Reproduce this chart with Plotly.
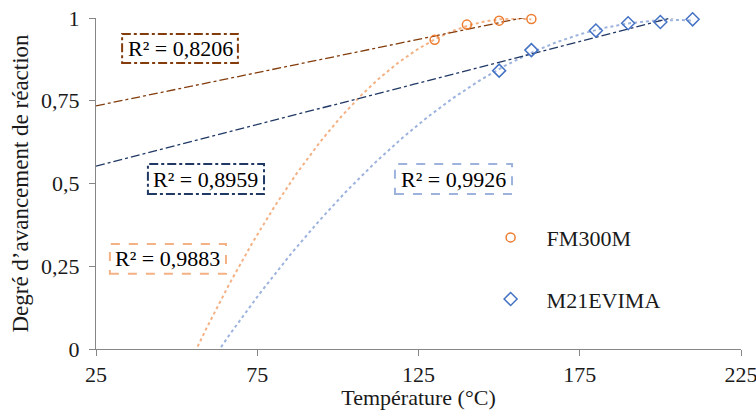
import numpy as np
import plotly.graph_objects as go

# ---- data ----
fm_temp = [130, 140, 150, 160]
fm_deg = [0.934, 0.980, 0.992, 0.997]
m21_temp = [150, 160, 180, 190, 200, 210]
m21_deg = [0.841, 0.903, 0.962, 0.984, 0.988, 0.996]

series_names = ["FM300M", "M21EVIMA"]
r2_labels = ["R² = 0,8206", "R² = 0,8959", "R² = 0,9883", "R² = 0,9926"]

x_ticks = [25, 75, 125, 175, 225]
y_ticks = [0, 0.25, 0.5, 0.75, 1]
y_tick_text = ["0", "0,25", "0,5", "0,75", "1"]

X_MIN, X_MAX = 25, 225

FONT = "Liberation Serif"
ORANGE = "#ED7D31"
BLUE = "#4472C4"
BROWN = "#843C0C"
NAVY = "#203864"
LORANGE = "#F4B183"
LBLUE = "#9DB3DE"
TXT = "#1a1a1a"


def trend(xs, ys, deg, x_end):
    c = np.polyfit(xs, ys, deg)
    xx = np.linspace(X_MIN, x_end, 400)
    return xx, np.polyval(c, xx)


fig = go.Figure()

for xs, ys, lin_col, poly_col in [
    (fm_temp, fm_deg, BROWN, LORANGE),
    (m21_temp, m21_deg, NAVY, LBLUE),
]:
    xx, yy = trend(xs, ys, 2, max(xs))
    fig.add_trace(go.Scatter(x=xx.tolist(), y=yy.tolist(), mode="lines", showlegend=False,
                             hoverinfo="skip",
                             line=dict(color=poly_col, width=2, dash="dot")))
    xx, yy = trend(xs, ys, 1, max(xs))
    fig.add_trace(go.Scatter(x=xx.tolist(), y=yy.tolist(), mode="lines", showlegend=False,
                             hoverinfo="skip",
                             line=dict(color=lin_col, width=1.3, dash="dashdot")))

fig.add_trace(go.Scatter(x=fm_temp, y=fm_deg, mode="markers", name=series_names[0],
                         legendgroup="a", cliponaxis=False,
                         marker=dict(symbol="circle-open", size=9, color=ORANGE,
                                     line=dict(width=1.5, color=ORANGE))))
fig.add_trace(go.Scatter(x=m21_temp, y=m21_deg, mode="markers", name=series_names[1],
                         legendgroup="b", cliponaxis=False,
                         marker=dict(symbol="diamond-open", size=10, color=BLUE,
                                     line=dict(width=1.5, color=BLUE))))

boxes = [
    (r2_labels[0], 33.1, 69.0, 0.864, 0.952, BROWN, "dashdot"),
    (r2_labels[1], 41.1, 77.1, 0.468, 0.559, NAVY, "dashdot"),
    (r2_labels[2], 29.3, 65.3, 0.227, 0.317, LORANGE, "dash"),
    (r2_labels[3], 117.7, 154.0, 0.468, 0.559, LBLUE, "dash"),
]
for txt, x0, x1, y0, y1, col, dash in boxes:
    fig.add_shape(type="rect", x0=x0, x1=x1, y0=y0, y1=y1, xref="x", yref="y",
                  line=dict(color=col, width=2, dash=dash), fillcolor="white",
                  layer="above")
    fig.add_annotation(x=(x0 + x1) / 2, y=(y0 + y1) / 2, text=txt, showarrow=False,
                       xref="x", yref="y",
                       font=dict(family=FONT, size=22, color="black"))

fig.update_layout(
    width=756, height=410,
    margin=dict(l=96, r=15, t=18, b=61),
    paper_bgcolor="white", plot_bgcolor="white",
    separators=", ",
    font=dict(family=FONT, size=22, color=TXT),
    legend=dict(x=0.587, y=0.40, xanchor="left", yanchor="top",
                traceorder="grouped", tracegroupgap=30, itemwidth=62,
                bgcolor="rgba(0,0,0,0)", font=dict(family=FONT, size=22, color=TXT)),
    xaxis=dict(range=[X_MIN, X_MAX], tickvals=x_ticks, showline=True, automargin=False,
               linecolor="#868686", linewidth=1, ticks="outside", ticklen=6,
               tickcolor="#868686", showgrid=False, zeroline=False,
               ticklabeloverflow="allow",
               tickfont=dict(family=FONT, size=22, color=TXT),
               title=dict(text="Température (°C)", standoff=4,
                          font=dict(family=FONT, size=22, color=TXT))),
    yaxis=dict(range=[0, 1], tickvals=y_ticks, ticktext=y_tick_text, showline=True,
               automargin=False, ticklabelstandoff=5,
               linecolor="#868686", linewidth=1, ticks="outside", ticklen=6,
               tickcolor="#868686", showgrid=False, zeroline=False,
               tickfont=dict(family=FONT, size=22, color=TXT),
               title=dict(text="Degré d’avancement de réaction", standoff=6,
                          font=dict(family=FONT, size=23, color=TXT))),
)

# force the serif face on every svg text, then redraw so measurements use it
POST = """
document.body.style.margin = '0';
var st = document.createElement('style');
st.textContent = "svg text, svg tspan { font-family: 'Liberation Serif', 'Times New Roman', serif !important; }";
document.head.appendChild(st);
var gd = document.getElementById('{plot_id}');
try { Plotly.newPlot(gd, gd.data, gd.layout, {displayModeBar: false}); } catch (e) {}
"""

fig.write_html("out.html", config={"displayModeBar": False}, post_script=POST)
